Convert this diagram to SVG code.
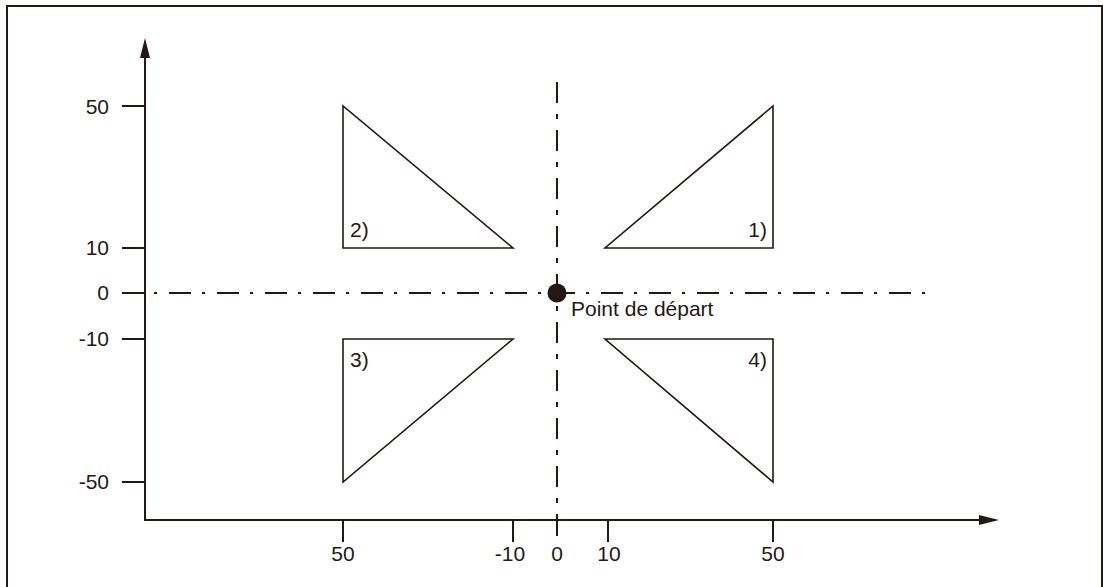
<svg xmlns="http://www.w3.org/2000/svg" width="1103" height="587" viewBox="0 0 1103 587">
<style>
.ln{stroke:#231815;stroke-width:2;fill:none}
.tri{stroke:#231815;stroke-width:1.6;fill:none;stroke-linejoin:miter}
.dd{stroke:#231815;stroke-width:2;fill:none;stroke-dasharray:21 11 5 11}
.t{font-family:"Liberation Sans",Arial,sans-serif;font-size:21px;fill:#231815}
.ah{fill:#231815}
</style>
<rect x="0" y="0" width="1103" height="587" fill="#ffffff"/>
<rect x="7" y="6" width="1095" height="600" class="ln"/>
<g id="axes">
<line x1="145" y1="56" x2="145" y2="521" class="ln"/>
<polygon class="ah" points="145,38 140,58 150,58"/>
<line x1="144" y1="520" x2="981" y2="520" class="ln"/>
<polygon class="ah" points="999,520 979,515 979,525"/>
<g id="yticks">
<line x1="122" y1="106" x2="145" y2="106" class="ln"/>
<line x1="122" y1="248" x2="145" y2="248" class="ln"/>
<line x1="122" y1="293" x2="145" y2="293" class="ln"/>
<line x1="122" y1="339" x2="145" y2="339" class="ln"/>
<line x1="122" y1="482" x2="145" y2="482" class="ln"/>
</g>
<g id="xticks">
<line x1="343" y1="520" x2="343" y2="542" class="ln"/>
<line x1="513" y1="520" x2="513" y2="542" class="ln"/>
<line x1="557" y1="514" x2="557" y2="536" class="ln"/>
<line x1="608" y1="520" x2="608" y2="542" class="ln"/>
<line x1="773" y1="520" x2="773" y2="542" class="ln"/>
</g>
<g id="ylabels" class="t" text-anchor="end">
<text x="109" y="114">50</text>
<text x="109" y="255">10</text>
<text x="109" y="300">0</text>
<text x="109" y="346">-10</text>
<text x="109" y="489">-50</text>
</g>
<g id="xlabels" class="t" text-anchor="middle">
<text x="343" y="561">50</text>
<text x="510" y="561">-10</text>
<text x="557" y="561">0</text>
<text x="609" y="561">10</text>
<text x="773" y="561">50</text>
</g>
</g>
<g id="connectors">
<line x1="154" y1="293" x2="926" y2="293" class="dd" style="stroke-dasharray:3 12 22 11"/>
<line x1="557" y1="82" x2="557" y2="505" class="dd"/>
</g>
<g id="tri1">
<polygon class="tri" points="773,106 773,248 605,248"/>
<text class="t" x="767" y="237" text-anchor="end">1)</text>
</g>
<g id="tri2">
<polygon class="tri" points="343,106 343,248 513,248"/>
<text class="t" x="350" y="237">2)</text>
</g>
<g id="tri3">
<polygon class="tri" points="343,339 343,482 513,339"/>
<text class="t" x="350" y="367">3)</text>
</g>
<g id="tri4">
<polygon class="tri" points="605,339 773,339 773,482"/>
<text class="t" x="767" y="367" text-anchor="end">4)</text>
</g>
<g id="start">
<circle cx="557" cy="293" r="9.5" fill="#231815"/>
<text class="t" x="571" y="316">Point de départ</text>
</g>
</svg>
